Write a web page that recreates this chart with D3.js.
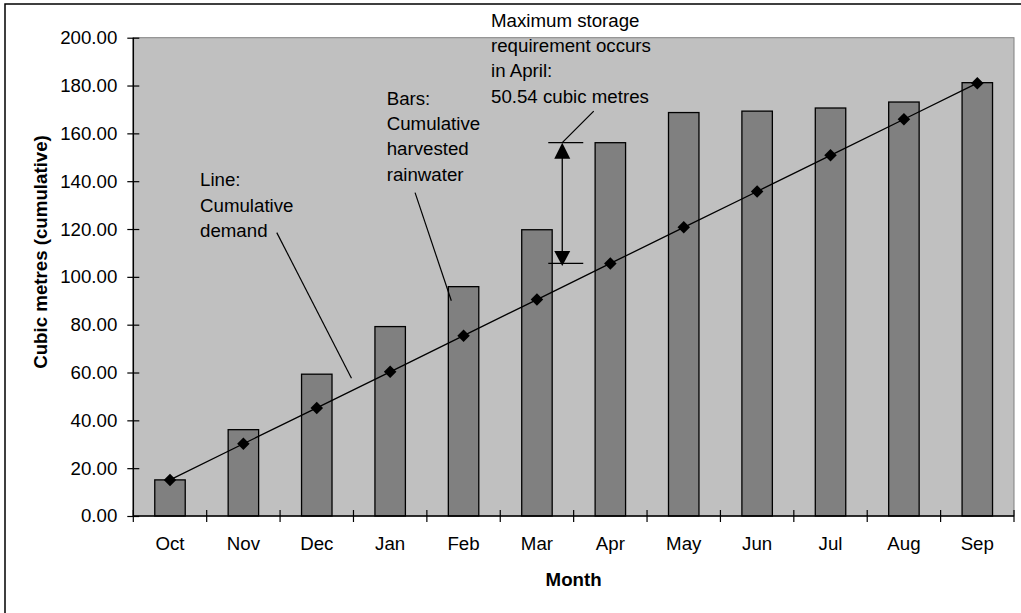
<!DOCTYPE html>
<html>
<head>
<meta charset="utf-8">
<script src="https://cdn.jsdelivr.net/npm/d3@7"></script>
<style>
body { margin: 0; background: #fff; }
svg text { font-family: "Liberation Sans", Arial, sans-serif; }
</style>
</head>
<body>
<script>
window.onload = function(){(function(){

// data
let months = ["Oct", "Nov", "Dec", "Jan", "Feb", "Mar", "Apr", "May", "Jun", "Jul", "Aug", "Sep"];
let harvested = [15.1, 36.1, 59.3, 79.2, 95.9, 119.7, 156.1, 168.7, 169.3, 170.6, 173.1, 181.2];
let demand = [15.1, 30.2, 45.2, 60.3, 75.4, 90.5, 105.6, 120.7, 135.7, 150.8, 165.9, 181.0];
let yTicks = [0, 20, 40, 60, 80, 100, 120, 140, 160, 180, 200];

let W = 1021, H = 613;
let m = { top: 37.7, left: 133.3, right: 7, bottom: 97 },
    w = W - m.left - m.right,
    h = H - m.top - m.bottom;

let fs = "18.7px";

let root = d3.select("body").append("svg")
    .attr("width", W)
    .attr("height", H);

// outer chart frame
root.append("rect")
    .attr("x", 5).attr("y", 4)
    .attr("width", W + 20).attr("height", H + 20)
    .attr("fill", "#fff")
    .attr("stroke", "#000")
    .attr("stroke-width", 1.5);

let svg = root.append("g")
    .attr("transform", "translate(" + m.left + "," + m.top + ")");

let x = d3.scaleBand()
    .domain(months)
    .range([0, w])
    .paddingInner(0.585)
    .paddingOuter(0.2925);
let step = x.step();
let xc = function(mo){ return x(mo) + x.bandwidth() / 2; };

let y = d3.scaleLinear()
    .domain([0, 200])
    .range([h, 0]);

// plot area
svg.append("rect")
    .attr("width", w).attr("height", h)
    .attr("fill", "#c0c0c0")
    .attr("stroke", "#808080")
    .attr("stroke-width", 1);

// bars
svg.selectAll(".bar")
    .data(months)
    .enter().append("rect")
    .attr("x", function(d){ return x(d); })
    .attr("y", function(d, i){ return y(harvested[i]); })
    .attr("width", x.bandwidth())
    .attr("height", function(d, i){ return h - y(harvested[i]); })
    .attr("fill", "#808080")
    .attr("stroke", "#000")
    .attr("stroke-width", 1.3);

// demand line
let line = d3.line()
    .x(function(d, i){ return xc(months[i]); })
    .y(function(d){ return y(d); });

svg.append("path")
    .datum(demand)
    .attr("fill", "none")
    .attr("stroke", "#000")
    .attr("stroke-width", 1.3)
    .attr("d", line);

svg.selectAll(".pt")
    .data(demand)
    .enter().append("path")
    .attr("d", d3.symbol(d3.symbolDiamond2, 100))
    .attr("transform", function(d, i){ return "translate(" + xc(months[i]) + "," + y(d) + ")"; })
    .attr("fill", "#000");

// y axis
let ya = svg.append("g")
    .call(d3.axisLeft(y).tickValues(yTicks).tickSize(6).tickPadding(10)
        .tickFormat(function(d){ return d.toFixed(2); }));
ya.select(".domain").attr("stroke", "#000").attr("stroke-width", 1.5).attr("d", "M0," + h + "V0");
ya.selectAll(".tick line").attr("x1", -6).attr("x2", 6).attr("stroke-width", 1.2);
ya.selectAll("text").attr("font-size", fs).attr("fill", "#000").attr("x", -16)
    .style("font-family", "'Liberation Sans', Arial, sans-serif");

// x axis (ticks between categories)
let xa = svg.append("g").attr("transform", "translate(0," + h + ")");
xa.append("line")
    .attr("x1", 0).attr("x2", w)
    .attr("stroke", "#000").attr("stroke-width", 1.5);
xa.selectAll(".xt")
    .data(d3.range(months.length + 1))
    .enter().append("line")
    .attr("x1", function(i){ return i * step; })
    .attr("x2", function(i){ return i * step; })
    .attr("y1", -6).attr("y2", 6)
    .attr("stroke", "#000").attr("stroke-width", 1.2);
xa.selectAll(".xl")
    .data(months)
    .enter().append("text")
    .attr("x", function(d){ return xc(d); })
    .attr("y", 34)
    .attr("text-anchor", "middle")
    .attr("font-size", fs)
    .text(function(d){ return d; });

// axis titles
svg.append("text")
    .attr("x", w / 2).attr("y", h + 70)
    .attr("text-anchor", "middle")
    .attr("font-size", fs).attr("font-weight", "bold")
    .text("Month");

svg.append("text")
    .attr("transform", "translate(" + (40 - m.left) + "," + (252 - m.top) + ") rotate(-90)")
    .attr("dy", "0.35em")
    .attr("text-anchor", "middle")
    .attr("font-size", fs).attr("font-weight", "bold")
    .text("Cubic metres (cumulative)");

// annotations
function block(lines, x0, y0){
    let t = svg.append("text")
        .attr("font-size", fs)
        .attr("x", x0).attr("y", y0);
    lines.forEach(function(s, i){
        t.append("tspan").attr("x", x0).attr("dy", i ? 25.2 : 0).text(s);
    });
}

// line label
block(["Line:", "Cumulative", "demand"], 200 - m.left, 186.5 - m.top);
svg.append("line")
    .attr("x1", xc("Dec") - 40).attr("y1", y(118.5))
    .attr("x2", xc("Dec") + step / 2 - 2).attr("y2", y(57.6))
    .attr("stroke", "#000").attr("stroke-width", 1.2);

// bars label
block(["Bars:", "Cumulative", "harvested", "rainwater"], 386.7 - m.left, 105 - m.top);
svg.append("line")
    .attr("x1", xc("Feb") - 48.5).attr("y1", y(135.2))
    .attr("x2", x("Feb") + 3).attr("y2", y(90))
    .attr("stroke", "#000").attr("stroke-width", 1.2);

// storage arrow in April
let ax = xc("Mar") + 25.3;
let yTop = y(harvested[6]), yBot = y(demand[6]);
svg.append("line").attr("x1", ax - 14).attr("x2", ax + 21).attr("y1", yTop).attr("y2", yTop)
    .attr("stroke", "#000").attr("stroke-width", 1.2);
svg.append("line").attr("x1", ax - 14).attr("x2", ax + 21).attr("y1", yBot).attr("y2", yBot)
    .attr("stroke", "#000").attr("stroke-width", 1.2);
svg.append("line").attr("x1", ax).attr("x2", ax).attr("y1", yTop + 4).attr("y2", yBot - 4)
    .attr("stroke", "#000").attr("stroke-width", 1.3);
svg.append("path")
    .attr("d", "M" + ax + "," + yTop + "l-8,16h16z")
    .attr("fill", "#000");
svg.append("path")
    .attr("d", "M" + ax + "," + (yBot + 2.5) + "l-8,-15h16z")
    .attr("fill", "#000");
svg.append("line")
    .attr("x1", ax).attr("y1", yTop)
    .attr("x2", ax + 31.5).attr("y2", yTop - 31.5)
    .attr("stroke", "#000").attr("stroke-width", 1.2);

block(["Maximum storage", "requirement occurs", "in April:", "50.54 cubic metres"], 491 - m.left, 27 - m.top);

})()}
</script>
</body>
</html>
